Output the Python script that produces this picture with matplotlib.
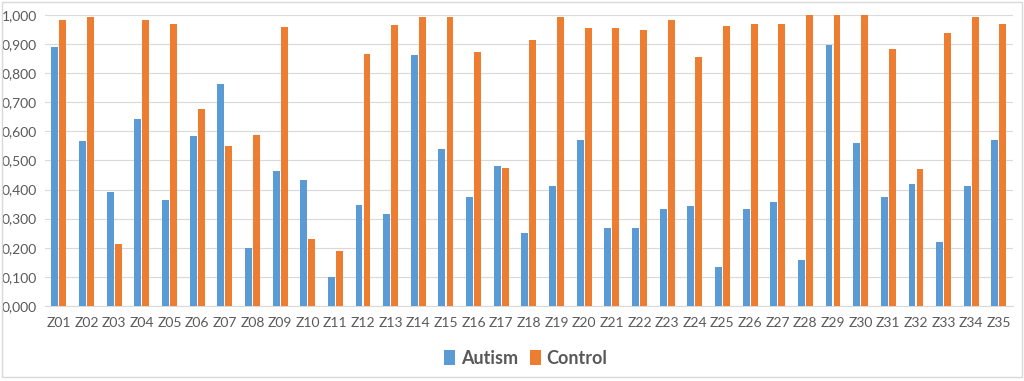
import matplotlib
matplotlib.use("Agg")
import matplotlib.pyplot as plt
from matplotlib.ticker import FuncFormatter, MultipleLocator
from matplotlib.patches import Rectangle
import numpy as np

categories = ["Z%02d" % i for i in range(1, 36)]
autism = [0.891, 0.565, 0.391, 0.641, 0.365, 0.583, 0.764, 0.198, 0.465, 0.432,
          0.099, 0.348, 0.316, 0.861, 0.538, 0.373, 0.480, 0.249, 0.411, 0.569,
          0.268, 0.268, 0.332, 0.344, 0.135, 0.332, 0.356, 0.157, 0.896, 0.559,
          0.373, 0.420, 0.220, 0.411, 0.569]
control = [0.983, 0.991, 0.214, 0.983, 0.967, 0.676, 0.549, 0.586, 0.958, 0.229,
           0.189, 0.864, 0.964, 0.991, 0.991, 0.872, 0.474, 0.913, 0.991, 0.956,
           0.954, 0.948, 0.982, 0.855, 0.963, 0.967, 0.969, 1.000, 1.000, 1.000,
           0.881, 0.471, 0.938, 0.991, 0.967]

plt.rcParams['font.family'] = ['Lato', 'DejaVu Sans']

fig = plt.figure(figsize=(10.24, 3.81), dpi=100)
ax = fig.add_axes([0.044, 0.197, 0.945, 0.764])

x = np.arange(len(categories))
w = 0.25
ax.bar(x - 0.145, autism, width=w, color="#5B9BD5", label="Autism", zorder=3)
ax.bar(x + 0.145, control, width=w, color="#ED7D31", label="Control", zorder=3)

ax.set_xlim(-0.5, len(categories) - 0.5)
ax.set_ylim(0, 1.0)
ax.yaxis.set_major_locator(MultipleLocator(0.1))
ax.yaxis.set_major_formatter(FuncFormatter(lambda v, p: ("%.3f" % v).replace(".", ",")))
ax.grid(axis="y", color="#D9D9D9", linewidth=0.8, zorder=0)
for s in ["top", "right", "left"]:
    ax.spines[s].set_visible(False)
ax.spines["bottom"].set_color("#D9D9D9")
ax.set_xticks(x)
ax.set_xticklabels(categories)
ax.tick_params(axis="both", length=0, colors="#595959", labelsize=10)
ax.tick_params(axis="x", pad=8)
ax.tick_params(axis="y", pad=6)

leg = ax.legend(loc="upper center", bbox_to_anchor=(0.497, -0.095), ncol=2, frameon=False,
                handlelength=0.6, handleheight=0.9, handletextpad=0.3, columnspacing=0.7,
                prop={"size": 13, "weight": "bold"})
for t in leg.get_texts():
    t.set_color("#595959")

fig.patches.append(Rectangle((0.002, 0.01), 0.996, 0.985, transform=fig.transFigure,
                             fill=False, edgecolor="#D9D9D9", linewidth=1.0))

fig.savefig("out.png", dpi=100)
